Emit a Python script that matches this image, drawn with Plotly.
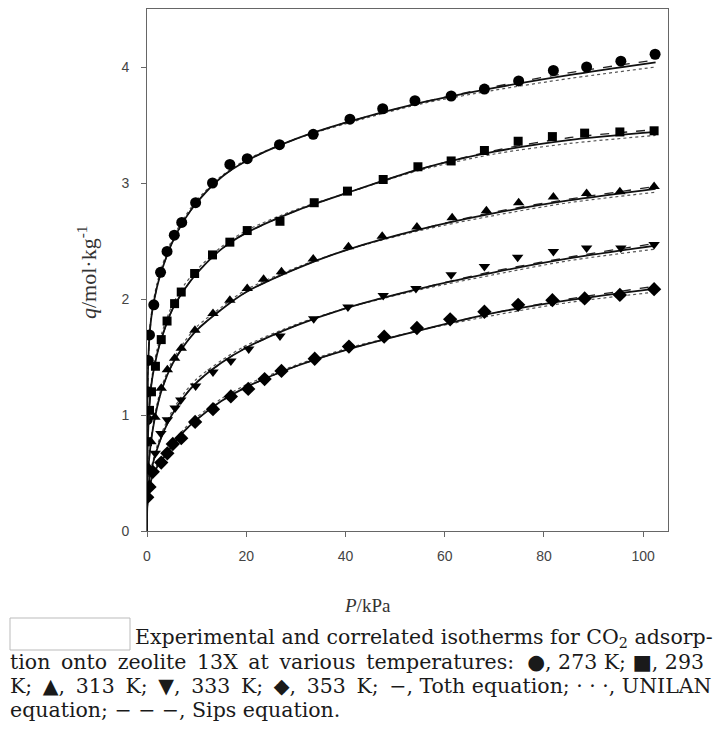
import plotly.graph_objects as go

# ---- experimental isotherm points (P in kPa, q in mol/kg) ----
p_273 = [0.05, 0.15, 0.25, 0.5, 1.37, 2.73, 4.04, 5.5, 7.0, 9.8, 13.2, 16.7, 20.2, 26.7, 33.5,
         40.9, 47.5, 54.0, 61.3, 68.0, 74.9, 81.9, 88.6, 95.5, 102.4]
q_273 = [0.96, 1.2, 1.47, 1.69, 1.95, 2.23, 2.41, 2.55, 2.66, 2.83, 3.0, 3.16, 3.21, 3.33, 3.42,
         3.55, 3.64, 3.71, 3.75, 3.81, 3.88, 3.97, 4.0, 4.05, 4.11]

p_293 = [0.1, 0.5, 0.9, 1.7, 2.87, 4.04, 5.56, 6.9, 9.6, 13.2, 16.7, 20.2, 26.8, 33.7, 40.4,
         47.6, 54.6, 61.3, 68.0, 74.8, 81.7, 88.2, 95.3, 102.2]
q_293 = [0.77, 1.04, 1.2, 1.42, 1.65, 1.81, 1.96, 2.06, 2.22, 2.38, 2.49, 2.59, 2.67, 2.83, 2.93,
         3.03, 3.14, 3.19, 3.28, 3.36, 3.40, 3.43, 3.44, 3.45]

p_313 = [0.3, 0.8, 1.6, 2.87, 4.1, 5.56, 6.9, 9.66, 13.3, 16.7, 20.2, 23.5, 27.1, 33.5, 40.6,
         47.4, 54.4, 61.5, 68.4, 74.9, 81.9, 88.6, 95.3, 102.2]
q_313 = [0.55, 0.77, 0.98, 1.23, 1.39, 1.49, 1.575, 1.73, 1.875, 1.99, 2.09, 2.17, 2.235, 2.345, 2.45,
         2.54, 2.62, 2.70, 2.76, 2.83, 2.88, 2.91, 2.925, 2.97]

p_333 = [0.3, 0.9, 1.66, 2.8, 4.1, 5.66, 6.8, 9.8, 13.3, 16.9, 20.5, 26.8, 33.6, 40.5, 47.6,
         54.2, 61.3, 68.0, 74.7, 81.9, 88.6, 95.5, 102.2]
q_333 = [0.38, 0.52, 0.67, 0.84, 0.96, 1.06, 1.13, 1.25, 1.37, 1.465, 1.57, 1.68, 1.83, 1.93, 2.03,
         2.09, 2.21, 2.28, 2.36, 2.41, 2.44, 2.44, 2.47]

p_353 = [0.05, 0.5, 1.17, 2.87, 4.1, 5.2, 6.9, 9.7, 13.3, 16.9, 20.4, 23.7, 27.1, 33.8, 40.7,
         47.8, 54.4, 61.1, 68.0, 74.8, 81.7, 88.2, 95.3, 102.2]
q_353 = [0.29, 0.38, 0.51, 0.59, 0.67, 0.75, 0.80, 0.94, 1.05, 1.16, 1.225, 1.31, 1.38, 1.485, 1.59,
         1.675, 1.75, 1.825, 1.89, 1.95, 1.99, 2.005, 2.035, 2.085]

# ---- correlated isotherms, sampled on a common pressure grid ----
p_fit = [0, 0.05, 0.2, 0.5, 1, 2, 3, 5, 7.5, 10, 15, 20, 30, 40, 55, 70, 85, 102.5]

toth_273 = [0, 0.95, 1.38, 1.68, 1.88, 2.10, 2.25, 2.48, 2.68, 2.83, 3.05, 3.19, 3.38, 3.52, 3.69, 3.82, 3.93, 4.04]
sips_273 = [0, 0.95, 1.38, 1.68, 1.88, 2.10, 2.25, 2.48, 2.68, 2.83, 3.05, 3.19, 3.38, 3.52, 3.69, 3.83, 3.95, 4.06]
unil_273 = [0, 0.90, 1.40, 1.71, 1.91, 2.13, 2.28, 2.51, 2.70, 2.85, 3.06, 3.20, 3.38, 3.51, 3.68, 3.80, 3.90, 4.00]

toth_293 = [0, 0.55, 0.82, 1.08, 1.30, 1.52, 1.67, 1.90, 2.08, 2.22, 2.43, 2.57, 2.76, 2.91, 3.12, 3.27, 3.37, 3.44]
sips_293 = [0, 0.55, 0.82, 1.08, 1.30, 1.52, 1.67, 1.90, 2.08, 2.22, 2.43, 2.57, 2.76, 2.91, 3.12, 3.28, 3.39, 3.46]
unil_293 = [0, 0.50, 0.80, 1.10, 1.33, 1.56, 1.71, 1.94, 2.12, 2.25, 2.45, 2.59, 2.77, 2.91, 3.11, 3.25, 3.34, 3.41]

toth_313 = [0, 0.35, 0.50, 0.65, 0.83, 1.06, 1.22, 1.43, 1.60, 1.73, 1.91, 2.06, 2.26, 2.42, 2.60, 2.74, 2.85, 2.95]
sips_313 = [0, 0.35, 0.50, 0.65, 0.83, 1.06, 1.22, 1.43, 1.60, 1.73, 1.91, 2.06, 2.26, 2.42, 2.60, 2.75, 2.86, 2.97]
unil_313 = [0, 0.30, 0.48, 0.66, 0.85, 1.09, 1.25, 1.46, 1.63, 1.76, 1.93, 2.08, 2.27, 2.42, 2.59, 2.72, 2.83, 2.92]

toth_333 = [0, 0.25, 0.35, 0.45, 0.55, 0.70, 0.82, 1.00, 1.16, 1.28, 1.45, 1.58, 1.77, 1.92, 2.09, 2.23, 2.35, 2.46]
sips_333 = [0, 0.25, 0.35, 0.45, 0.55, 0.70, 0.82, 1.00, 1.16, 1.28, 1.45, 1.58, 1.77, 1.92, 2.09, 2.24, 2.36, 2.48]
unil_333 = [0, 0.22, 0.33, 0.45, 0.57, 0.73, 0.85, 1.03, 1.19, 1.31, 1.47, 1.60, 1.78, 1.92, 2.08, 2.21, 2.33, 2.43]

toth_353 = [0, 0.20, 0.28, 0.37, 0.46, 0.55, 0.61, 0.73, 0.86, 0.96, 1.12, 1.24, 1.42, 1.56, 1.73, 1.88, 1.99, 2.09]
sips_353 = [0, 0.20, 0.28, 0.37, 0.46, 0.55, 0.61, 0.73, 0.86, 0.96, 1.12, 1.24, 1.42, 1.56, 1.73, 1.88, 2.00, 2.11]
unil_353 = [0, 0.18, 0.27, 0.37, 0.47, 0.57, 0.63, 0.75, 0.88, 0.98, 1.14, 1.26, 1.43, 1.57, 1.73, 1.86, 1.97, 2.06]

series = [
    ("273 K", "circle", 11, p_273, q_273, toth_273, sips_273, unil_273),
    ("293 K", "square", 9, p_293, q_293, toth_293, sips_293, unil_293),
    ("313 K", "triangle-up", 10, p_313, q_313, toth_313, sips_313, unil_313),
    ("333 K", "triangle-down", 10, p_333, q_333, toth_333, sips_333, unil_333),
    ("353 K", "diamond", 11, p_353, q_353, toth_353, sips_353, unil_353),
]

x_ticks = [0, 20, 40, 60, 80, 100]
y_ticks = [0, 1, 2, 3, 4]

fig = go.Figure()

for name, symbol, msize, p, q, toth, sips, unil in series:
    fig.add_trace(go.Scatter(x=p_fit, y=unil, mode="lines", name=name + " UNILAN",
                             line=dict(color="#555555", width=1.2, dash="dot",
                                       shape="spline", smoothing=0.8)))
    fig.add_trace(go.Scatter(x=p_fit, y=sips, mode="lines", name=name + " Sips",
                             line=dict(color="#222222", width=1.3, dash="dash",
                                       shape="spline", smoothing=0.8)))
    fig.add_trace(go.Scatter(x=p_fit, y=toth, mode="lines", name=name + " Toth",
                             line=dict(color="#111111", width=1.8,
                                       shape="spline", smoothing=0.8)))
    fig.add_trace(go.Scatter(x=p, y=q, mode="markers", name=name,
                             marker=dict(symbol=symbol, size=msize, color="#000000",
                                         line=dict(width=0))))

# plot-area geometry in pixels
W, H = 716, 740
L, R, T, B = 147, 668, 9, 531


def px(xp):
    return (xp - L) / (R - L)


def py(yp):
    return (B - yp) / (B - T)


axis_common = dict(showline=True, linecolor="#666666", linewidth=1, mirror=True,
                   ticks="outside", ticklen=5, tickcolor="#666666", showgrid=False,
                   zeroline=False, tickfont=dict(family="Liberation Sans, Arial", size=14,
                                                 color="#444444"))

fig.update_xaxes(range=[0, 105], tickvals=x_ticks, ticklabelstandoff=7, **axis_common)
fig.update_yaxes(range=[0, 4.5], tickvals=y_ticks, ticklabelstandoff=9, **axis_common)

serif = "Liberation Serif, Times New Roman, serif"
cap_font = dict(family="DejaVu Serif, serif", size=20.5, color="#1a1a1a")

annotations = [
    dict(text="<i>P</i>/kPa", x=px(367), y=py(605), font=dict(family=serif, size=19, color="#333333")),
    dict(text="<i>q</i>/mol·kg<sup>-1</sup>", x=px(87), y=py(272), textangle=-90,
         font=dict(family=serif, size=22, color="#333333")),
]

# justified caption: thin spaces (U+2009) widen the word gaps of the full lines
ts = "\u2009"
caption_lines = [
    (133, 638, "Experimental and correlated isotherms for CO<sub>2</sub> adsorp-"),
    (8, 662, "tion " + ts + "onto " + ts + "zeolite " + ts + "13X " + ts + "at " + ts + "various " + ts
     + "temperatures:  ●, 273 K; ■, 293"),
    (8, 686, "K; " + ts + "▲, " + ts + "313 " + ts + "K; " + ts + "▼, " + ts + "333 " + ts + "K; " + ts
     + "◆, " + ts + "353 " + ts + "K; " + ts + "−, Toth equation; · · ·, UNILAN"),
    (8, 710, "equation; − − −, Sips equation."),
]
for xl, yc, txt in caption_lines:
    annotations.append(dict(text=txt, x=px(xl), y=py(yc), xanchor="left", yanchor="middle",
                            font=cap_font))

for a in annotations:
    a.setdefault("xref", "paper")
    a.setdefault("yref", "paper")
    a.setdefault("showarrow", False)
    a.setdefault("xanchor", "center")
    a.setdefault("yanchor", "middle")

fig.update_layout(
    width=W, height=H,
    margin=dict(l=L, r=W - R, t=T, b=H - B, pad=0),
    paper_bgcolor="white", plot_bgcolor="white",
    showlegend=False,
    annotations=annotations,
    shapes=[dict(type="rect", xref="paper", yref="paper",
                 x0=px(10), x1=px(130), y0=py(650), y1=py(618),
                 line=dict(color="#bbbbbb", width=1), fillcolor="white")],
)

fig.write_html("out.html")
